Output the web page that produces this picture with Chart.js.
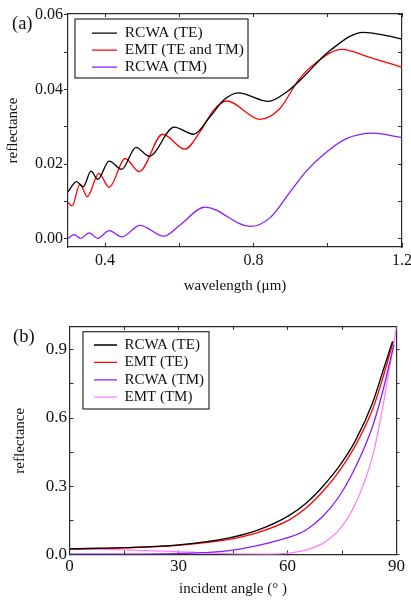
<!DOCTYPE html>
<html>
<head>
<meta charset="utf-8">
<script src="https://cdn.jsdelivr.net/npm/chart.js@4.4.0/dist/chart.umd.min.js"></script>
<style>
  html, body { margin: 0; padding: 0; background: #fff; overflow: hidden; width: 411px; height: 601px; }
  canvas { position: absolute; left: 0; }
  #chartA { top: 0; }
  #chartB { top: 300px; }
</style>
</head>
<body>
<canvas id="chartA" width="430" height="300"></canvas>
<canvas id="chartB" width="411" height="301"></canvas>
<script>
// Panel (a) data: reflectance vs wavelength (um)
const waveRcwaTE = [0.300, 0.323, 0.341, 0.362, 0.380, 0.411, 0.445, 0.483, 0.519, 0.586, 0.638, 0.683, 0.719, 0.759, 0.840, 0.889, 0.925, 1.006, 1.096, 1.158, 1.200];
const reflRcwaTE = [0.0126, 0.0153, 0.0139, 0.0181, 0.0159, 0.0208, 0.0186, 0.0245, 0.0221, 0.0299, 0.0280, 0.0327, 0.0371, 0.0391, 0.0368, 0.0393, 0.0424, 0.0504, 0.0553, 0.0544, 0.0535];

const waveEmt = [0.300, 0.311, 0.332, 0.352, 0.383, 0.411, 0.454, 0.492, 0.555, 0.615, 0.656, 0.692, 0.728, 0.818, 0.871, 0.921, 0.970, 1.037, 1.113, 1.200];
const reflEmt = [0.0097, 0.0088, 0.0146, 0.0113, 0.0175, 0.0138, 0.0215, 0.0180, 0.0280, 0.0240, 0.0287, 0.0344, 0.0369, 0.0320, 0.0349, 0.0425, 0.0473, 0.0507, 0.0486, 0.0459];

const waveRcwaTM = [0.300, 0.316, 0.334, 0.357, 0.380, 0.411, 0.445, 0.494, 0.558, 0.602, 0.669, 0.791, 0.844, 0.898, 0.941, 0.988, 1.050, 1.122, 1.200];
const reflRcwaTM = [0.0001, 0.0011, 0.0001, 0.0016, 0.0001, 0.0022, 0.0005, 0.0036, 0.0007, 0.0037, 0.0085, 0.0033, 0.0056, 0.0125, 0.0180, 0.0225, 0.0268, 0.0283, 0.0271];

// Panel (b) data: reflectance vs incident angle (deg)
const angRcwaTE = [0, 15, 30, 44, 52, 60.5, 65.1, 69.7, 74.2, 78.8, 83.4, 86.1, 88.9];
const valRcwaTE = [0.025, 0.030, 0.042, 0.073, 0.108, 0.172, 0.225, 0.299, 0.387, 0.504, 0.666, 0.798, 0.937];

const angEmtTE = [0, 15, 30, 44, 52, 60.5, 65.1, 69.7, 74.2, 78.8, 83.4, 86.1, 89.1];
const valEmtTE = [0.025, 0.029, 0.040, 0.066, 0.097, 0.152, 0.204, 0.277, 0.365, 0.482, 0.637, 0.769, 0.937];

const angRcwaTM = [0, 20, 30, 37, 44, 52, 60.5, 65.1, 69.7, 74.2, 78.8, 83.4, 86.1, 89.3];
const valRcwaTM = [0.002, 0.002, 0.004, 0.008, 0.017, 0.040, 0.076, 0.108, 0.167, 0.255, 0.387, 0.563, 0.710, 0.923];

const angEmtTM = [0, 15, 30, 45, 55, 60.5, 65.1, 69.7, 74.2, 78.8, 83.4, 86.1, 88.0, 90];
const valEmtTM = [0.025, 0.020, 0.012, 0.003, 0.001, 0.006, 0.020, 0.049, 0.108, 0.226, 0.431, 0.637, 0.813, 1.0];

// Tick labels
const aXTickLabels = ["0.4", "0.8", "1.2"];
const aXMinor = [0.6, 1.0];
const aYTickLabels = ["0.00", "0.02", "0.04", "0.06"];
const aYMinor = [0.01, 0.03, 0.05];
const bXTickLabels = ["0", "30", "60", "90"];
const bXMinor = [15, 45, 75];
const bYTickLabels = ["0.0", "0.3", "0.6", "0.9"];
const bYMinor = [0.15, 0.45, 0.75];

const SERIF = "'Liberation Serif', 'Times New Roman', serif";
const AXIS_COLOR = "#2b2b2b";

function toPoints(xs, ys) {
  return xs.map((x, i) => ({ x: x, y: ys[i] }));
}

function tickSet(labels, minor) {
  const major = labels.map(Number);
  return {
    values: major.concat(minor).sort((a, b) => a - b),
    label: (v) => {
      const i = major.findIndex((m) => Math.abs(m - v) < 1e-9);
      return i >= 0 ? labels[i] : "";
    },
  };
}

function axis(o) {
  const t = o.ticks;
  return {
    type: "linear",
    position: o.position,
    min: o.min,
    max: o.max,
    afterBuildTicks: (s) => {
      s.ticks = t.values.map((v) => ({ value: v }));
    },
    afterFit: (s) => {
      if (s.isHorizontal()) s.height = o.size;
      else s.width = o.size;
    },
    border: { display: true, color: AXIS_COLOR, width: 1.2 },
    grid: {
      display: true,
      drawOnChartArea: false,
      drawTicks: true,
      tickLength: o.tickLength,
      tickColor: AXIS_COLOR,
      tickWidth: 1,
    },
    ticks: {
      display: o.labels !== false,
      padding: o.padding || 0,
      maxRotation: 0,
      autoSkip: false,
      color: "#111",
      font: { family: SERIF, size: o.fontSize || 16 },
      callback: (v) => t.label(v),
    },
    title: o.title
      ? {
          display: true,
          text: o.title,
          color: "#111",
          font: { family: SERIF, size: 15 },
          padding: o.titlePadding,
        }
      : { display: false },
  };
}

// legend placement + frame + panel tag
const panelDecor = {
  id: "panelDecor",
  afterLayout(chart, args, opts) {
    const legend = chart.legend;
    if (legend) {
      legend.left = opts.legendX;
      legend.top = opts.legendY;
    }
  },
  afterDraw(chart, args, opts) {
    const ctx = chart.ctx;
    const f = opts.frame;
    ctx.save();
    ctx.strokeStyle = AXIS_COLOR;
    ctx.lineWidth = 1.2;
    ctx.strokeRect(f[0], f[1], f[2] - f[0], f[3] - f[1]);
    ctx.fillStyle = "#111";
    ctx.font = "18.5px " + SERIF;
    ctx.textBaseline = "middle";
    ctx.textAlign = "left";
    ctx.fillText(opts.tag, opts.tagX, opts.tagY);
    ctx.restore();
  },
};

function lineSet(label, pts, color) {
  return {
    label: label,
    data: pts,
    borderColor: color,
    backgroundColor: color,
    borderWidth: 1.3,
    pointRadius: 0,
    cubicInterpolationMode: "monotone",
    fill: false,
  };
}

function legendOpts(fontSize, padding, lineW) {
  return {
    display: true,
    position: "chartArea",
    align: "start",
    labels: {
      usePointStyle: true,
      pointStyle: "line",
      pointStyleWidth: lineW,
      padding: padding,
      color: "#111",
      font: { family: SERIF, size: fontSize },
    },
  };
}

// Config Chart (a)
const aX = tickSet(aXTickLabels, aXMinor);
const aY = tickSet(aYTickLabels, aYMinor);

new Chart(document.getElementById("chartA"), {
  type: "line",
  data: {
    datasets: [
      lineSet("RCWA (TE)", toPoints(waveRcwaTE, reflRcwaTE), "#000000"),
      lineSet("EMT (TE and TM)", toPoints(waveEmt, reflEmt), "#ff0000"),
      lineSet("RCWA (TM)", toPoints(waveRcwaTM, reflRcwaTM), "#8a1cff"),
    ],
  },
  options: {
    responsive: false,
    animation: false,
    layout: { padding: { left: 0, top: 14, right: 28, bottom: 0 } },
    scales: {
      x: axis({ position: "bottom", min: 0.3, max: 1.2, ticks: aX, size: 53, tickLength: -4, padding: 8, fontSize: 16,
        title: "wavelength (\u03bcm)", titlePadding: { top: 0, bottom: 5 } }),
      y: axis({ position: "left", min: -0.0022, max: 0.0602, ticks: aY, size: 68, tickLength: 4, padding: 1, fontSize: 16,
        title: "reflectance", titlePadding: { top: 4.5, bottom: 0 } }),
      x2: axis({ position: "top", min: 0.3, max: 1.2, ticks: aX, size: 0, tickLength: -3, labels: false }),
      y2: axis({ position: "right", min: -0.0022, max: 0.0602, ticks: aY, size: 0, tickLength: -4, labels: false }),
    },
    plugins: {
      legend: legendOpts(15.5, 1.5, 25),
      tooltip: { enabled: false },
      panelDecor: { legendX: 90.5, legendY: 23.8, frame: [75, 19, 248, 78], tag: "(a)", tagX: 12, tagY: 24 },
    },
  },
  plugins: [panelDecor],
});

// Config Chart (b)
const bX = tickSet(bXTickLabels, bXMinor);
const bY = tickSet(bYTickLabels, bYMinor);

new Chart(document.getElementById("chartB"), {
  type: "line",
  data: {
    datasets: [
      lineSet("RCWA (TE)", toPoints(angRcwaTE, valRcwaTE), "#000000"),
      lineSet("EMT (TE)", toPoints(angEmtTE, valEmtTE), "#ff0000"),
      lineSet("RCWA (TM)", toPoints(angRcwaTM, valRcwaTM), "#8a1cff"),
      lineSet("EMT (TM)", toPoints(angEmtTM, valEmtTM), "#ff80ff"),
    ],
  },
  options: {
    responsive: false,
    animation: false,
    layout: { padding: { left: 0, top: 27, right: 13.5, bottom: 0 } },
    scales: {
      x: axis({ position: "bottom", min: 0, max: 90, ticks: bX, size: 46.5, tickLength: -4, padding: 6, fontSize: 17,
        title: "incident angle (\u00b0 )", titlePadding: { top: 0, bottom: 2.5 } }),
      y: axis({ position: "left", min: 0, max: 1.0, ticks: bY, size: 69.5, tickLength: -4, padding: 6.5, fontSize: 17,
        title: "reflectance", titlePadding: { top: 11, bottom: 0 } }),
      x2: axis({ position: "top", min: 0, max: 90, ticks: bX, size: 0, tickLength: -3, labels: false }),
      y2: axis({ position: "right", min: 0, max: 1.0, ticks: bY, size: 0, tickLength: 3, labels: false }),
    },
    plugins: {
      legend: legendOpts(15, 2.4, 23),
      tooltip: { enabled: false },
      panelDecor: { legendX: 91.6, legendY: 35.1, frame: [83, 31.7, 209, 109], tag: "(b)", tagX: 13, tagY: 36.7 },
    },
  },
  plugins: [panelDecor],
});
</script>
</body>
</html>
